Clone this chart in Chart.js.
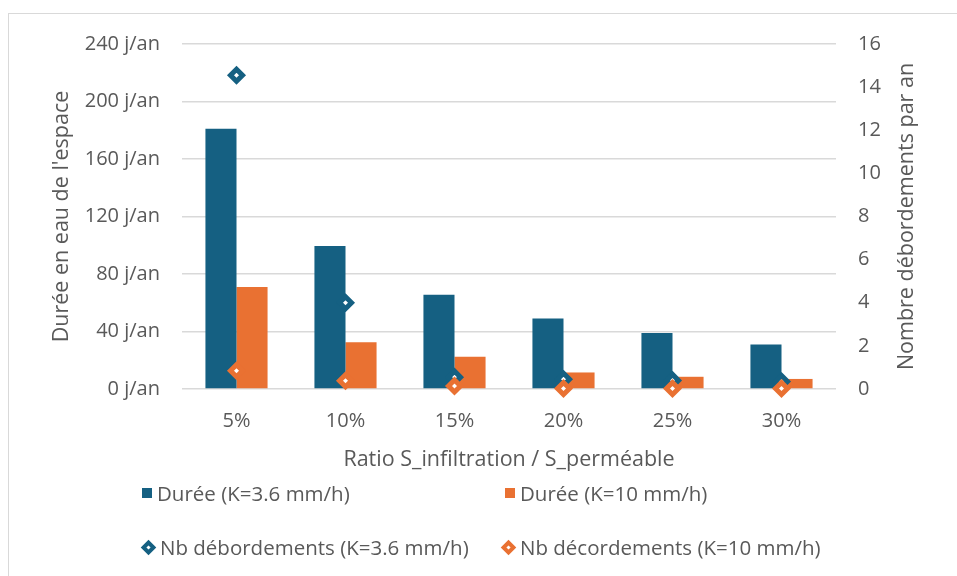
<!DOCTYPE html>
<html>
<head>
<meta charset="utf-8">
<script src="https://cdn.jsdelivr.net/npm/chart.js@4"></script>
<style>
    body { margin: 0; background: #fff; font-family: "Open Sans", sans-serif; }
    #wrap { position: relative; width: 957px; height: 576px; overflow: hidden; }
    #frame { position: absolute; left: 8px; top: 13px; width: 980px; height: 600px; border: 1.5px solid #d9d9d9; }
    #chart { position: absolute; left: 0; top: 0; }
    .lg { position: absolute; display: flex; align-items: center; font-size: 20.5px; color: #595959; white-space: nowrap; }
    .sq { width: 10px; height: 10px; margin-right: 5px; }
    .dia { width: 3px; height: 3px; border: 4px solid; background: #fff; transform: rotate(45deg); margin: 0 6px 0 3px; }
</style>
</head>
<body>
<div id="wrap">
    <div id="frame"></div>
    <canvas id="chart" width="957" height="576"></canvas>
    <div id="legend"></div>
</div>
<script>
// data
const categories = ['5%', '10%', '15%', '20%', '25%', '30%'];
const dureeK36 = [181, 99.5, 65.5, 49, 39, 31];
const dureeK10 = [71, 32.5, 22.5, 11.5, 8.5, 7];
const nbK36 = [14.55, 4.0, 0.55, 0.45, 0.4, 0.35];
const nbK10 = [0.85, 0.38, 0.14, 0.02, 0.02, 0.02];
const leftTicks = [0, 40, 80, 120, 160, 200, 240];
const rightTicks = [0, 2, 4, 6, 8, 10, 12, 14, 16];
const rightTitle = 'Nombre débordements par an';

const BLUE = '#156082';
const ORANGE = '#E97132';
const GREY = '#595959';
const GRID = '#d9d9d9';
const FONT = '"Open Sans", sans-serif';

// right axis title reads bottom-to-top in the original, Chart.js turns it the other way
const rightTitlePlugin = {
    id: 'rightTitle',
    afterDraw(chart) {
        const s = chart.scales.y2;
        const c = chart.ctx;
        c.save();
        c.translate(s.right - 15, (chart.chartArea.top + chart.chartArea.bottom) / 2);
        c.rotate(-Math.PI / 2);
        c.fillStyle = GREY;
        c.font = '21.5px ' + FONT;
        c.textAlign = 'center';
        c.textBaseline = 'middle';
        c.fillText(rightTitle, 0, 0);
        c.restore();
    }
};

const ctx = document.getElementById('chart').getContext('2d');
const chart = new Chart(ctx, {
    type: 'bar',
    data: {
        labels: categories,
        datasets: [
            {
                label: 'Durée (K=3.6 mm/h)',
                data: dureeK36,
                backgroundColor: BLUE,
                yAxisID: 'y',
                order: 3
            },
            {
                label: 'Durée (K=10 mm/h)',
                data: dureeK10,
                backgroundColor: ORANGE,
                yAxisID: 'y',
                order: 3
            },
            {
                type: 'line',
                label: 'Nb débordements (K=3.6 mm/h)',
                data: nbK36,
                yAxisID: 'y2',
                showLine: false,
                pointStyle: 'rectRot',
                pointRadius: 6,
                pointBorderWidth: 5,
                pointBackgroundColor: '#fff',
                pointBorderColor: BLUE,
                clip: false,
                order: 1
            },
            {
                type: 'line',
                label: 'Nb décordements (K=10 mm/h)',
                data: nbK10,
                yAxisID: 'y2',
                showLine: false,
                pointStyle: 'rectRot',
                pointRadius: 6,
                pointBorderWidth: 5,
                pointBackgroundColor: '#fff',
                pointBorderColor: ORANGE,
                clip: false,
                order: 0
            }
        ]
    },
    options: {
        responsive: false,
        animation: false,
        layout: { padding: { left: 45, right: 35, top: 44, bottom: 99 } },
        datasets: {
            bar: { categoryPercentage: 0.57, barPercentage: 1.0 }
        },
        plugins: {
            legend: { display: false },
            tooltip: { enabled: false }
        },
        scales: {
            x: {
                grid: { display: false },
                border: { display: false },
                ticks: { color: GREY, font: { family: FONT, size: 20 }, padding: 12 },
                title: { display: true, text: 'Ratio S_infiltration / S_perméable', color: GREY, font: { family: FONT, size: 21.5 } },
                afterFit: s => { s.height = 88; }
            },
            y: {
                position: 'left',
                min: 0,
                max: 240,
                afterBuildTicks: s => { s.ticks = leftTicks.map(v => ({ value: v })); },
                grid: { color: GRID, lineWidth: 1.5, drawTicks: false },
                border: { display: false },
                ticks: {
                    color: GREY,
                    font: { family: FONT, size: 20 },
                    padding: 22,
                    callback: v => v + ' j/an'
                },
                title: { display: true, text: "Durée en eau de l'espace", color: GREY, font: { family: FONT, size: 21.5 } },
                afterFit: s => { s.width = 137; }
            },
            y2: {
                position: 'right',
                min: 0,
                max: 16,
                afterBuildTicks: s => { s.ticks = rightTicks.map(v => ({ value: v })); },
                grid: { drawOnChartArea: false, drawTicks: false },
                border: { display: false },
                ticks: { color: GREY, font: { family: FONT, size: 20 }, padding: 22 },
                afterFit: s => { s.width = 86; }
            }
        }
    },
    plugins: [rightTitlePlugin]
});

// Legend laid out in two columns, like the original
const legendPos = [[142, 494], [505, 494], [140, 548], [500, 548]];
const legendBox = document.getElementById('legend');
chart.data.datasets.forEach((ds, i) => {
    const item = document.createElement('div');
    item.className = 'lg';
    item.style.left = legendPos[i][0] + 'px';
    item.style.top = (legendPos[i][1] - 15) + 'px';
    const mark = document.createElement('span');
    if (ds.type === 'line') {
        mark.className = 'dia';
        mark.style.borderColor = ds.pointBorderColor;
    } else {
        mark.className = 'sq';
        mark.style.background = ds.backgroundColor;
    }
    const txt = document.createElement('span');
    txt.textContent = ds.label;
    item.appendChild(mark);
    item.appendChild(txt);
    legendBox.appendChild(item);
});
</script>
</body>
</html>
